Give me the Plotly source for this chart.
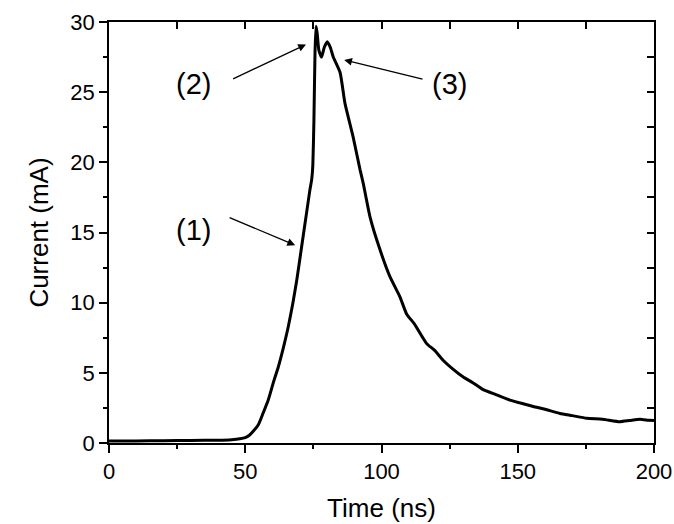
import plotly.graph_objects as go

time_ns = [0, 10, 20, 30, 40, 45, 48, 50, 51.5, 53, 54.8, 56.5, 58.5, 60.3, 62.1, 64, 65.8,
           67.5, 68.9, 70.7, 72.5, 73.7, 74.4, 74.8, 75.2, 75.6, 75.96, 76.4, 77, 78, 79,
           80.1, 81.2, 82.3, 84.8, 86.6, 89.6, 92.1, 93.3, 95.8, 99.4, 103.1, 106.8, 109.2,
           112, 116.5, 119.5, 122.6, 126, 130, 133.5, 137.3, 142, 147.1, 151, 155.7, 160,
           165.5, 170, 175.3, 181, 187.5, 191, 194.9, 198, 200]
current_mA = [0.15, 0.15, 0.16, 0.18, 0.2, 0.24, 0.3, 0.38, 0.55, 0.85, 1.3, 2.1, 3.1, 4.3,
              5.4, 6.8, 8.3, 10.0, 11.6, 14.0, 16.4, 18.0, 18.8, 19.8, 23.0, 27.8, 29.7,
              29.2, 28.0, 27.5, 28.2, 28.6, 28.2, 27.5, 26.4, 24.2, 21.8, 19.5, 18.5, 16.1,
              13.8, 11.85, 10.4, 9.2, 8.5, 7.1, 6.6, 5.9, 5.3, 4.7, 4.3, 3.8, 3.45, 3.06,
              2.85, 2.6, 2.4, 2.1, 1.95, 1.76, 1.7, 1.52, 1.6, 1.69, 1.62, 1.6]

labels = ["(1)", "(2)", "(3)"]
label_x = [31, 31, 125]
label_y = [15.2, 25.6, 25.6]
arrow_tip_x = [68.3, 72.3, 86.3]
arrow_tip_y = [14.1, 28.4, 27.3]
arrow_tail_x = [43.7, 45.0, 115.6]
arrow_tail_y = [16.1, 25.9, 25.9]

FONT = "Liberation Sans, Arial, Helvetica, sans-serif"

fig = go.Figure()
fig.add_trace(go.Scatter(x=time_ns, y=current_mA, mode="lines",
                         line=dict(color="black", width=3, shape="spline", smoothing=0.5),
                         showlegend=False, hoverinfo="skip"))
fig.add_trace(go.Scatter(x=[0, 200], y=[0, 30], mode="lines", opacity=0,
                         xaxis="x2", yaxis="y2", showlegend=False, hoverinfo="skip"))

annotations = []
for i in range(len(labels)):
    annotations.append(dict(x=arrow_tip_x[i], y=arrow_tip_y[i], ax=arrow_tail_x[i], ay=arrow_tail_y[i],
                            xref="x", yref="y", axref="x", ayref="y", text="", showarrow=True,
                            arrowhead=2, arrowsize=1.2, arrowwidth=1.3, arrowcolor="black"))
    annotations.append(dict(x=label_x[i], y=label_y[i], xref="x", yref="y", text=labels[i],
                            showarrow=False, font=dict(size=29, color="black", family=FONT)))

axis_common = dict(showgrid=False, zeroline=False, showline=True, linecolor="black",
                   linewidth=1.5, mirror=False, automargin=False)

fig.update_layout(
    width=674, height=524,
    margin=dict(l=109, r=20, t=22, b=81),
    paper_bgcolor="white", plot_bgcolor="white",
    font=dict(family=FONT, size=22, color="black"),
    annotations=annotations,
    xaxis=dict(range=[0, 200], tickmode="linear", tick0=0, dtick=50, ticks="outside",
               ticklen=8, tickwidth=1.5, tickcolor="black",
               minor=dict(dtick=25, ticks="outside", ticklen=4, tickwidth=1.5, tickcolor="black"),
               title=dict(text="Time (ns)", standoff=16), **axis_common),
    yaxis=dict(range=[0, 30], tickmode="linear", tick0=0, dtick=5, ticks="outside",
               ticklen=8, tickwidth=1.5, tickcolor="black",
               minor=dict(dtick=2.5, ticks="outside", ticklen=4, tickwidth=1.5, tickcolor="black"),
               title=dict(text="Current (mA)", standoff=14), **axis_common),
    xaxis2=dict(range=[0, 200], overlaying="x", side="top", anchor="y", tickmode="linear",
                tick0=0, dtick=25, ticks="inside", ticklen=7, tickwidth=1.5, tickcolor="black",
                showticklabels=False, **axis_common),
    yaxis2=dict(range=[0, 30], overlaying="y", side="right", anchor="x", tickmode="linear",
                tick0=0, dtick=2.5, ticks="inside", ticklen=7, tickwidth=1.5, tickcolor="black",
                showticklabels=False, **axis_common),
)

fig.write_html("out.html")
